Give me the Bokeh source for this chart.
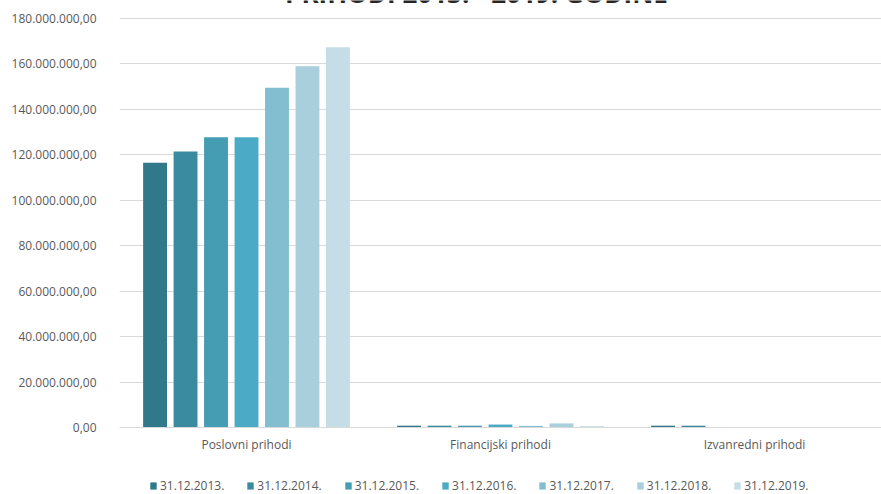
from bokeh.plotting import figure
from bokeh.models import FixedTicker, Legend, LegendItem, Label, FactorRange, Range1d, ColumnDataSource
from bokeh.transform import dodge
from bokeh.embed import file_html
from bokeh.resources import INLINE

# ---- data ----
categories = ["Poslovni prihodi", "Financijski prihodi", "Izvanredni prihodi"]
series_labels = ["31.12.2013.", "31.12.2014.", "31.12.2015.", "31.12.2016.",
                 "31.12.2017.", "31.12.2018.", "31.12.2019."]
v2013 = [116_500_000, 800_000, 800_000]
v2014 = [121_500_000, 800_000, 800_000]
v2015 = [127_700_000, 800_000, 0]
v2016 = [127_700_000, 1_300_000, 0]
v2017 = [149_500_000, 700_000, 0]
v2018 = [159_000_000, 1_800_000, 0]
v2019 = [167_400_000, 600_000, 0]
series_values = [v2013, v2014, v2015, v2016, v2017, v2018, v2019]
colors = ["#31788a", "#3a8ba0", "#459db4", "#4babc6", "#83bdd0", "#a9cfdd", "#c4dde6"]
y_ticks = [0, 20_000_000, 40_000_000, 60_000_000, 80_000_000, 100_000_000,
           120_000_000, 140_000_000, 160_000_000, 180_000_000]
y_tick_labels = ["0,00", "20.000.000,00", "40.000.000,00", "60.000.000,00",
                 "80.000.000,00", "100.000.000,00", "120.000.000,00",
                 "140.000.000,00", "160.000.000,00", "180.000.000,00"]
title_text = "PRIHODI 2013. - 2019. GODINE"

FONT = "Open Sans"
TXT = "#595959"

H = 494
ZERO_PX = 427   # pixel row of the value 0
TOP_PX = 18     # pixel row of the value 180M
per_px = 180_000_000 / (ZERO_PX - TOP_PX)
y_top = per_px * ZERO_PX
y_bottom = -per_px * (H - ZERO_PX)

src = ColumnDataSource(dict(cat=categories, **{f"s{i}": v for i, v in enumerate(series_values)}))

p = figure(width=881, height=H, x_range=FactorRange(*categories, range_padding=0),
           y_range=Range1d(y_bottom, y_top), output_backend="svg", toolbar_location=None,
           min_border_left=119, min_border_right=0, min_border_top=0, min_border_bottom=0)
p.outline_line_color = None
p.background_fill_color = "white"
p.border_fill_color = "white"

step = 0.12
bw = 0.094
renderers = []
for i, lab in enumerate(series_labels):
    r = p.vbar(x=dodge("cat", (i - 3) * step, range=p.x_range), top=f"s{i}", width=bw,
               source=src, fill_color=colors[i], line_color=None)
    renderers.append(r)

p.xgrid.grid_line_color = None
p.ygrid.grid_line_color = "#d9d9d9"
p.ygrid.grid_line_width = 1

p.yaxis.ticker = FixedTicker(ticks=y_ticks)
p.yaxis.major_label_overrides = {t: l for t, l in zip(y_ticks, y_tick_labels)}
p.yaxis.axis_line_color = None
p.yaxis.major_tick_line_color = None
p.yaxis.minor_tick_line_color = None
p.yaxis.major_label_standoff = 17
p.yaxis.major_label_text_font = FONT
p.yaxis.major_label_text_font_size = "12px"
p.yaxis.major_label_text_color = TXT

p.xaxis.fixed_location = 0
p.xaxis.axis_line_color = "#d9d9d9"
p.xaxis.major_tick_line_color = None
p.xaxis.minor_tick_line_color = None
p.xaxis.major_label_standoff = 2
p.xaxis.major_label_text_font = FONT
p.xaxis.major_label_text_font_size = "12px"
p.xaxis.major_label_text_color = TXT

legend = Legend(items=[LegendItem(label=l, renderers=[r]) for l, r in zip(series_labels, renderers)],
                orientation="horizontal", location=(30, 0))
legend.border_line_color = None
legend.background_fill_alpha = 0
legend.padding = 0
legend.margin = 0
legend.spacing = 22
legend.glyph_width = 8
legend.glyph_height = 9
legend.label_standoff = 3
legend.label_height = 8
legend.label_text_font = FONT
legend.label_text_font_size = "12px"
legend.label_text_color = TXT
p.add_layout(legend, "center")

title = Label(x=357, y=H + 8, x_units="screen", y_units="screen", text=title_text,
              text_align="center", text_baseline="alphabetic", text_font=FONT,
              text_font_size="26px", text_font_style="bold", text_color="#262626")
p.add_layout(title)

open("out.html", "w").write(file_html(p, INLINE))
